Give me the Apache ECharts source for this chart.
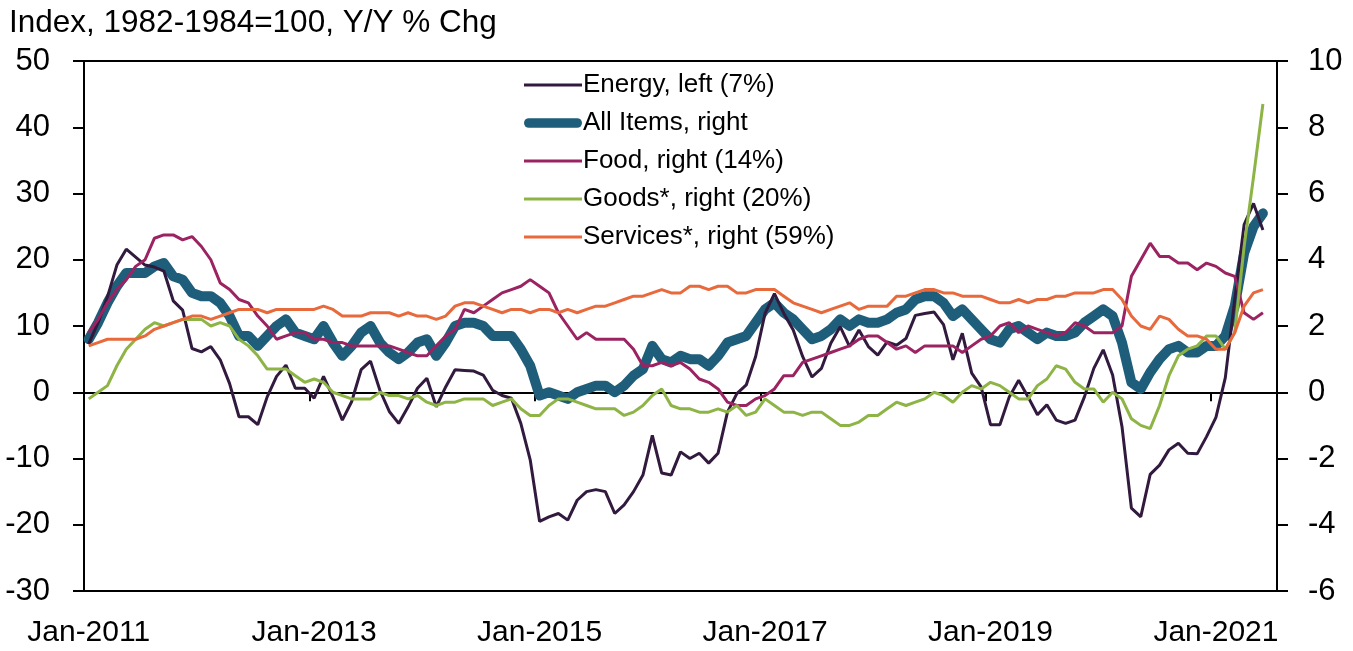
<!DOCTYPE html>
<html>
<head>
<meta charset="utf-8">
<script src="https://cdn.jsdelivr.net/npm/echarts@6/dist/echarts.min.js"></script>
<style>
  html, body { margin: 0; padding: 0; background: #fff; }
  #chart { width: 1353px; height: 651px; }
</style>
</head>
<body>
<div id="chart"></div>
<script>
// monthly categories, Jan-2011 .. Jul-2021 (last one left empty)
const monthNames = ['Jan', 'Feb', 'Mar', 'Apr', 'May', 'Jun', 'Jul', 'Aug', 'Sep', 'Oct', 'Nov', 'Dec']
const months = []
for (let y = 2011; y <= 2021; y++) {
  for (let m = 0; m < 12; m++) {
    if (y === 2021 && m > 6) break
    months.push(monthNames[m] + '-' + y)
  }
}

// Y/Y % change, Jan-2011 .. Jun-2021
const energy = [
  7.3, 10.5, 14.4, 19.2, 21.6, 20.4, 19.2, 18.9, 18.3, 13.8, 12.4, 6.6,
  6.1, 6.9, 4.9, 1.3, -3.7, -3.7, -4.9, -0.7, 2.4, 4.1, 0.6, 0.6,
  -0.9, 2.4, -0.7, -4.2, -1.4, 3.4, 4.7, 0.3, -2.9, -4.7, -2.2, 0.6,
  2.1, -2.2, 0.8, 3.4, 3.3, 3.2, 2.6, 0.3, -0.5, -0.9, -4.7, -10.2,
  -19.5, -18.8, -18.3, -19.3, -16.3, -15.0, -14.7, -15.0, -18.3, -17.0, -15.0, -12.5,
  -6.5, -12.2, -12.5, -9.0, -10.0, -9.2, -10.7, -9.2, -3.0, -0.2, 1.1, 5.4,
  11.9, 14.9, 11.9, 9.4, 5.4, 2.3, 3.6, 7.4, 9.9, 6.9, 9.4, 6.9,
  5.6, 7.6, 7.1, 8.1, 11.6, 11.9, 12.1, 10.2, 4.9, 8.9, 2.9, 0.8,
  -4.9, -4.9, -0.7, 1.8, -0.7, -3.4, -1.9, -4.2, -4.7, -4.2, -0.7, 3.6,
  6.4, 2.6, -5.2, -17.5, -18.8, -12.4, -11.0, -8.7, -7.7, -9.2, -9.3, -6.7,
  -3.8, 2.2, 14.0, 25.3, 28.5, 24.5
]
const allItems = [
  1.6, 2.1, 2.7, 3.2, 3.6, 3.6, 3.6, 3.8, 3.9, 3.5, 3.4, 3.0,
  2.9, 2.9, 2.7, 2.3, 1.7, 1.7, 1.4, 1.7, 2.0, 2.2, 1.8, 1.7,
  1.6, 2.0, 1.5, 1.1, 1.4, 1.8, 2.0, 1.5, 1.2, 1.0, 1.2, 1.5,
  1.6, 1.1, 1.5, 2.0, 2.1, 2.1, 2.0, 1.7, 1.7, 1.7, 1.3, 0.8,
  -0.1, 0.0, -0.1, -0.2, 0.0, 0.1, 0.2, 0.2, 0.0, 0.2, 0.5, 0.7,
  1.4, 1.0, 0.9, 1.1, 1.0, 1.0, 0.8, 1.1, 1.5, 1.6, 1.7, 2.1,
  2.5, 2.7, 2.4, 2.2, 1.9, 1.6, 1.7, 1.9, 2.2, 2.0, 2.2, 2.1,
  2.1, 2.2, 2.4, 2.5, 2.8, 2.9, 2.9, 2.7, 2.3, 2.5, 2.2, 1.9,
  1.6, 1.5, 1.9, 2.0, 1.8, 1.6, 1.8, 1.7, 1.7, 1.8, 2.1, 2.3,
  2.5, 2.3, 1.5, 0.3, 0.1, 0.6, 1.0, 1.3, 1.4, 1.2, 1.2, 1.4,
  1.4, 1.7, 2.6, 4.2, 5.0, 5.4
]
const food = [
  1.8, 2.2, 2.7, 3.1, 3.4, 3.8, 4.0, 4.65, 4.75, 4.75, 4.6, 4.7,
  4.4, 4.0, 3.3, 3.1, 2.8, 2.7, 2.3, 2.0, 1.6, 1.7, 1.8, 1.8,
  1.6, 1.6, 1.5, 1.5, 1.4, 1.4, 1.4, 1.4, 1.4, 1.3, 1.2, 1.1,
  1.1, 1.4, 1.7, 1.9, 2.5, 2.4, 2.6, 2.8, 3.0, 3.1, 3.2, 3.4,
  3.2, 3.0, 2.4, 2.0, 1.6, 1.8, 1.6, 1.6, 1.6, 1.6, 1.3, 0.8,
  0.8, 0.9, 0.8, 0.9, 0.7, 0.4, 0.3, 0.1, -0.3, -0.4, -0.4, -0.2,
  -0.1, 0.1, 0.5, 0.5, 0.9, 1.0, 1.1, 1.2, 1.3, 1.4, 1.6, 1.7,
  1.7, 1.5, 1.3, 1.4, 1.2, 1.4, 1.4, 1.4, 1.4, 1.2, 1.4, 1.6,
  1.7, 2.0, 2.1, 1.8, 2.0, 1.9, 1.8, 1.7, 1.8, 2.1, 2.0, 1.8,
  1.8, 1.8, 2.0, 3.5, 4.0, 4.5, 4.1, 4.1, 3.9, 3.9, 3.7, 3.9,
  3.8, 3.6, 3.5, 2.4, 2.2, 2.4
]
const goods = [
  -0.2, 0.0, 0.2, 0.8, 1.3, 1.6, 1.9, 2.1, 2.0, 2.1, 2.2, 2.2,
  2.2, 2.0, 2.1, 2.0, 1.6, 1.4, 1.1, 0.7, 0.7, 0.7, 0.5, 0.3,
  0.4, 0.3, 0.0, -0.1, -0.2, -0.2, -0.2, 0.0, -0.1, -0.1, -0.2, -0.1,
  -0.3, -0.4, -0.3, -0.3, -0.2, -0.2, -0.2, -0.4, -0.3, -0.2, -0.5, -0.7,
  -0.7, -0.4, -0.2, -0.2, -0.3, -0.4, -0.5, -0.5, -0.5, -0.7, -0.6, -0.4,
  -0.1, 0.1, -0.4, -0.5, -0.5, -0.6, -0.6, -0.5, -0.6, -0.4, -0.7, -0.6,
  -0.2, -0.4, -0.6, -0.6, -0.7, -0.6, -0.6, -0.8, -1.0, -1.0, -0.9, -0.7,
  -0.7, -0.5, -0.3, -0.4, -0.3, -0.2, 0.0, -0.1, -0.3, 0.0, 0.2, 0.1,
  0.3, 0.2, 0.0, -0.2, -0.2, 0.2, 0.4, 0.8, 0.7, 0.3, 0.1, 0.1,
  -0.3, 0.0, -0.2, -0.8, -1.0, -1.1, -0.4, 0.5, 1.1, 1.3, 1.4, 1.7,
  1.7, 1.3, 1.8, 4.4, 6.5, 8.7
]
const services = [
  1.4, 1.5, 1.6, 1.6, 1.6, 1.6, 1.7, 1.9, 2.0, 2.1, 2.2, 2.3,
  2.3, 2.2, 2.3, 2.4, 2.5, 2.5, 2.5, 2.4, 2.5, 2.5, 2.5, 2.5,
  2.5, 2.6, 2.5, 2.3, 2.3, 2.3, 2.4, 2.4, 2.4, 2.3, 2.4, 2.3,
  2.3, 2.2, 2.3, 2.6, 2.7, 2.7, 2.6, 2.5, 2.4, 2.5, 2.5, 2.4,
  2.5, 2.5, 2.4, 2.5, 2.4, 2.5, 2.6, 2.6, 2.7, 2.8, 2.9, 2.9,
  3.0, 3.1, 3.0, 3.0, 3.2, 3.2, 3.1, 3.2, 3.2, 3.0, 3.0, 3.1,
  3.1, 3.1, 2.9, 2.7, 2.6, 2.5, 2.4, 2.5, 2.6, 2.7, 2.5, 2.6,
  2.6, 2.6, 2.9, 2.9, 3.0, 3.1, 3.1, 3.0, 3.0, 2.9, 2.9, 2.9,
  2.8, 2.7, 2.7, 2.8, 2.7, 2.8, 2.8, 2.9, 2.9, 3.0, 3.0, 3.0,
  3.1, 3.1, 2.8, 2.3, 2.0, 1.9, 2.3, 2.2, 1.9, 1.7, 1.7, 1.6,
  1.3, 1.3, 1.8, 2.6, 3.0, 3.1
]

const leftTicks = { min: -30, max: 50, interval: 10 }
const rightTicks = { min: -6, max: 10, interval: 2 }
const labelEvery = 24 // Jan of every other year

const font = '"Liberation Sans", Arial, sans-serif'
const black = '#000'

// legend icons: plain strokes, no marker
const thinIcon = 'path://M0,0 H54 V3 H0 Z'
const thickIcon = 'path://M5,0 H55 A5,5 0 0 1 55,10 H5 A5,5 0 0 1 5,0 Z'

const chart = echarts.init(document.getElementById('chart'), null, { renderer: 'canvas' })

const everyOther = (index) => index % labelEvery === 0

chart.setOption({
  animation: false,
  backgroundColor: '#fff',
  textStyle: { fontFamily: font },
  title: {
    text: 'Index, 1982-1984=100, Y/Y % Chg',
    left: 9,
    top: 7,
    padding: 0,
    textStyle: { fontFamily: font, fontSize: 31.5, fontWeight: 'normal', color: black }
  },
  legend: {
    orient: 'vertical',
    left: 524,
    top: 72,
    padding: 0,
    itemWidth: 58,
    itemHeight: 14,
    itemGap: 12,
    textStyle: { fontFamily: font, fontSize: 26, color: black, lineHeight: 26, padding: [0, 0, 0, -4] },
    data: [
      { name: 'Energy, left (7%)', icon: thinIcon },
      { name: 'All Items, right', icon: thickIcon },
      { name: 'Food, right (14%)', icon: thinIcon },
      { name: 'Goods*, right (20%)', icon: thinIcon },
      { name: 'Services*, right (59%)', icon: thinIcon }
    ]
  },
  grid: {
    left: 84, right: 76, top: 61, bottom: 60,
    show: true, borderColor: black, borderWidth: 2, backgroundColor: 'transparent'
  },
  xAxis: [
    {
      // the zero line with its ticks
      type: 'category',
      data: months,
      boundaryGap: true,
      position: 'bottom',
      axisLine: { onZero: true, onZeroAxisIndex: 0, lineStyle: { color: black, width: 2 } },
      axisTick: { show: true, interval: everyOther, length: 9, lineStyle: { color: black, width: 2 } },
      axisLabel: { show: false },
      splitLine: { show: false }
    },
    {
      // labels along the bottom edge
      type: 'category',
      data: months,
      boundaryGap: true,
      position: 'bottom',
      axisLine: { show: false, onZero: false },
      axisTick: { show: false },
      axisLabel: { interval: everyOther, fontSize: 30, color: black, margin: 27, fontFamily: font },
      splitLine: { show: false }
    }
  ],
  yAxis: [
    {
      type: 'value',
      position: 'left',
      min: leftTicks.min, max: leftTicks.max, interval: leftTicks.interval,
      axisLine: { show: true, lineStyle: { color: black, width: 2 } },
      axisTick: { show: true, length: 11, lineStyle: { color: black, width: 2 } },
      axisLabel: { fontSize: 31, color: black, margin: 34, fontFamily: font },
      splitLine: { show: false }
    },
    {
      type: 'value',
      position: 'right',
      min: rightTicks.min, max: rightTicks.max, interval: rightTicks.interval,
      axisLine: { show: true, lineStyle: { color: black, width: 2 } },
      axisTick: { show: true, length: 11, lineStyle: { color: black, width: 2 } },
      axisLabel: { fontSize: 31, color: black, margin: 31, fontFamily: font },
      splitLine: { show: false }
    }
  ],
  series: [
    {
      name: 'All Items, right', type: 'line', yAxisIndex: 1, data: allItems,
      symbol: 'none', z: 2, color: '#1F5E7A',
      lineStyle: { width: 10, color: '#1F5E7A', cap: 'round', join: 'round' }
    },
    {
      name: 'Energy, left (7%)', type: 'line', yAxisIndex: 0, data: energy,
      symbol: 'none', z: 3, color: '#321A3F',
      lineStyle: { width: 3, color: '#321A3F' }
    },
    {
      name: 'Food, right (14%)', type: 'line', yAxisIndex: 1, data: food,
      symbol: 'none', z: 3, color: '#9B2361',
      lineStyle: { width: 3, color: '#9B2361' }
    },
    {
      name: 'Goods*, right (20%)', type: 'line', yAxisIndex: 1, data: goods,
      symbol: 'none', z: 3, color: '#8DB445',
      lineStyle: { width: 3, color: '#8DB445' }
    },
    {
      name: 'Services*, right (59%)', type: 'line', yAxisIndex: 1, data: services,
      symbol: 'none', z: 3, color: '#E8693B',
      lineStyle: { width: 3, color: '#E8693B' }
    }
  ]
})
</script>
</body>
</html>
